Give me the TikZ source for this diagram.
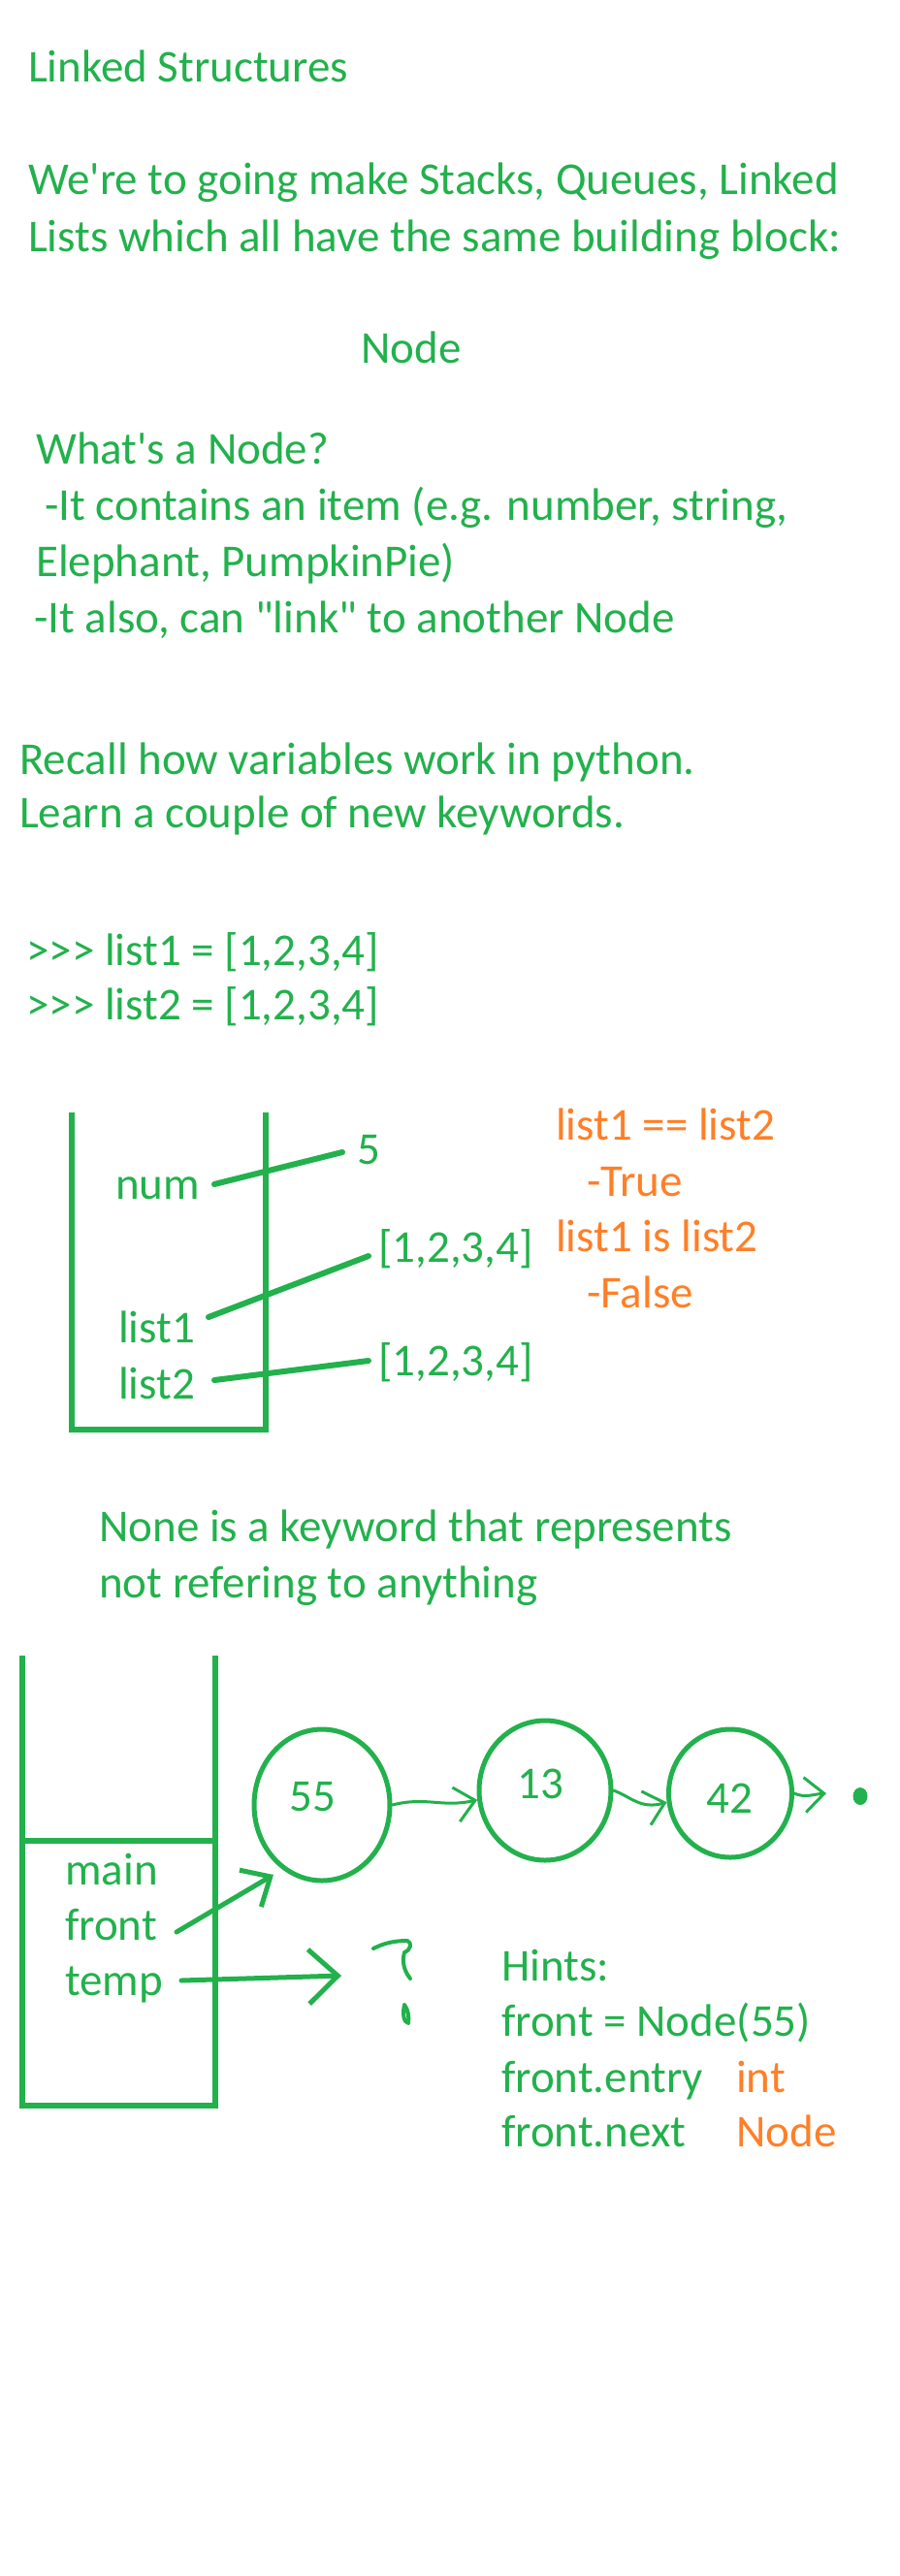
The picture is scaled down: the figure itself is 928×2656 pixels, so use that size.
\documentclass[tikz,border=0pt]{standalone}
\usepackage{fontspec}
\newfontfamily\pf{Carlito}
\usetikzlibrary{shapes.geometric,arrows.meta}
\definecolor{pgreen}{HTML}{22B14C}
\definecolor{porange}{HTML}{FF7F27}
\tikzset{
  txt/.style={anchor=base west, inner sep=0pt, text=pgreen, font=\pf\fontsize{47}{57}\selectfont},
  otxt/.style={txt, text=porange},
  stackbox/.style={draw=pgreen, line width=6pt},
  ptr/.style={draw=pgreen, line width=6pt, line cap=round},
  nodecirc/.style={ellipse, draw=pgreen, line width=5pt, inner sep=0pt},
  link/.style={draw=pgreen, line width=3pt, line cap=round, -{Straight Barb[length=20pt,width=36pt,line width=3pt]}},
  bigptr/.style={draw=pgreen, line width=5pt, line cap=round, -{Straight Barb[length=30pt,width=56pt,line width=5pt]}},
  midptr/.style={draw=pgreen, line width=5pt, line cap=round, -{Straight Barb[length=24pt,width=44pt,line width=5pt]}},
  scrawl/.style={draw=pgreen, line width=4pt, line cap=round, line join=round},
}
\begin{document}
\begin{tikzpicture}[x=1pt,y=-1pt]
\fill[white] (0,0) rectangle (928,2656);
\useasboundingbox (0,0) rectangle (928,2656);

% intro text
\node[txt] (title) at (29,84) {Linked Structures};
\node[txt] (l1) at (29,200) {We're to going make Stacks, Queues, Linked};
\node[txt] (l2) at (29,259) {Lists which all have the same building block:};
\node[txt] (nodeword) at (372,374) {Node};
\node[txt] (q1) at (37,478) {What's a Node?};
\node[txt] (q2) at (46,536) {-It contains an item (e.g. number, string,};
\node[txt] (q3) at (37,594) {Elephant, PumpkinPie)};
\node[txt] (q4) at (35,652) {-It also, can "link" to another Node};
\node[txt] (r1) at (20,798) {Recall how variables work in python.};
\node[txt] (r2) at (20,853) {Learn a couple of new keywords.};
\node[txt] (p1) at (27,995) {>>> list1 = [1,2,3,4]};
\node[txt] (p2) at (27,1051) {>>> list2 = [1,2,3,4]};

% first stack
\draw[stackbox] (74,1147) -- (74,1474) -- (274,1474) -- (274,1147);
\node[txt] (num) at (119,1236) {num};
\node[txt] (list1) at (122,1384) {list1};
\node[txt] (list2) at (122,1442) {list2};
\node[txt] (five) at (368,1200) {5};
\node[txt] (arrA) at (390,1301) {[1,2,3,4]};
\node[txt] (arrB) at (390,1418) {[1,2,3,4]};
\coordinate (numS) at (221,1221);
\coordinate (numE) at (353,1188);
\coordinate (l1S) at (215,1358);
\coordinate (l1E) at (380,1295);
\coordinate (l2S) at (221,1423);
\coordinate (l2E) at (380,1403);
\draw[ptr] (numS) -- (numE);
\draw[ptr] (l1S) -- (l1E);
\draw[ptr] (l2S) -- (l2E);

\node[otxt] (o1) at (573,1175) {list1 == list2};
\node[otxt] (o2) at (605,1233) {-True};
\node[otxt] (o3) at (573,1290) {list1 is list2};
\node[otxt] (o4) at (605,1348) {-False};

\node[txt] (n1) at (102,1589) {None is a keyword that represents};
\node[txt] (n2) at (102,1647) {not refering to anything};

% second stack
\draw[stackbox] (23,1707) -- (23,2171) -- (222,2171) -- (222,1707);
\draw[stackbox] (23,1898) -- (222,1898);
\node[txt] (main) at (67,1943) {main};
\node[txt] (front) at (67,2000) {front};
\node[txt] (temp) at (67,2057) {temp};

% linked nodes
\node[nodecirc, minimum width=140pt, minimum height=156pt] (c55) at (332,1861) {};
\node[nodecirc, minimum width=136pt, minimum height=144pt] (c13) at (562,1846) {};
\node[nodecirc, minimum width=127pt, minimum height=132pt] (c42) at (753,1849) {};
\node[txt] (v55) at (298,1867) {55};
\node[txt] (v13) at (533,1854) {13};
\node[txt] (v42) at (728,1869) {42};
\draw[link] (c55.east) .. controls (440,1852) and (455,1864) .. (c13.188);
\draw[link] (c13.east) .. controls (650,1852) and (660,1866) .. (c42.188);
\coordinate (nullE) at (852,1849);
\draw[link] (c42.east) .. controls (830,1854) and (838,1850) .. (nullE);
\node[ellipse, fill=pgreen, minimum width=15pt, minimum height=18pt, inner sep=0pt] (nulldot) at (887,1852) {};

% pointers from stack
\coordinate (frontS) at (182,1992);
\coordinate (frontT) at (282,1933);
\draw[midptr] (frontS) -- (frontT);
\coordinate (tempS) at (187,2042);
\coordinate (tempT) at (352,2037);
\draw[bigptr] (tempS) -- (tempT);

% hand-drawn question mark
\draw[scrawl] (385,2009) .. controls (395,2004) and (405,2001) .. (420,2001)
  .. controls (425,2003) and (424,2010) .. (417,2013)
  .. controls (415,2020) and (415,2030) .. (423,2040);
\draw[scrawl] (417,2067) .. controls (415,2076) and (416,2085) .. (421,2086)
  .. controls (422,2080) and (421,2072) .. (417,2067);

% hints
\node[txt] (h0) at (517,2042) {Hints:};
\node[txt] (h1) at (517,2099) {front = Node(55)};
\node[txt] (h2) at (517,2157) {front.entry};
\node[txt] (h3) at (517,2213) {front.next};
\node[otxt] (h2t) at (759,2157) {int};
\node[otxt] (h3t) at (759,2213) {Node};
\end{tikzpicture}
\end{document}
